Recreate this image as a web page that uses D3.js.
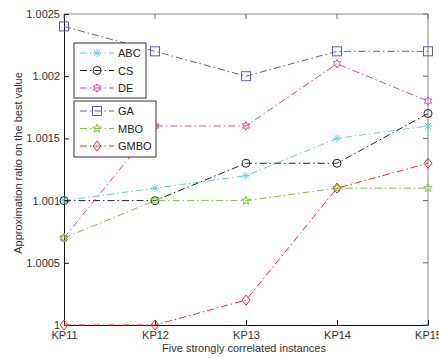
<!DOCTYPE html>
<html>
<head>
<meta charset="utf-8">
<script src="https://cdn.jsdelivr.net/npm/d3@7/dist/d3.min.js"></script>
<style>
  html, body { margin: 0; padding: 0; background: #fff; }
  svg { display: block; font-family: "Liberation Sans", Arial, sans-serif; }
</style>
</head>
<body>
<svg id="chart" width="439" height="358"></svg>
<script>
// Instances on the x axis
const instances = ["KP11", "KP12", "KP13", "KP14", "KP15"];
// Approximation ratio of each algorithm per instance
const abc  = [1.0010, 1.0011, 1.0012, 1.0015, 1.0016];
const cs   = [1.0010, 1.0010, 1.0013, 1.0013, 1.0017];
const de   = [1.0007, 1.0016, 1.0016, 1.0021, 1.0018];
const ga   = [1.0024, 1.0022, 1.0020, 1.0022, 1.0022];
const mbo  = [1.0007, 1.0010, 1.0010, 1.0011, 1.0011];
const gmbo = [1.0000, 1.0000, 1.0002, 1.0011, 1.0013];
const yTicks = [1, 1.0005, 1.001, 1.0015, 1.002, 1.0025];
const yTickLabels = ["1", "1.0005", "1.001", "1.0015", "1.002", "1.0025"];

const series = [
  { name: "ABC",  values: abc,  color: "#6ccbe0", marker: "plus" },
  { name: "CS",   values: cs,   color: "#222222", marker: "circle" },
  { name: "DE",   values: de,   color: "#d94aa6", marker: "hexagram" },
  { name: "GA",   values: ga,   color: "#5a5fb0", marker: "square" },
  { name: "MBO",  values: mbo,  color: "#7cc241", marker: "pentagram" },
  { name: "GMBO", values: gmbo, color: "#ee2a2a", marker: "diamond" }
];

const svg = d3.select("#chart");
const plotL = 64, plotR = 428, plotT = 14, plotB = 325;

const x = d3.scalePoint().domain(instances).range([plotL, plotR]);
const y = d3.scaleLinear().domain([1, 1.0025]).range([plotB, plotT]);

const dashDot = "7,3,1.5,3";

// Star path generator
function starPath(n, rOuter, rInner) {
  const p = [];
  for (let i = 0; i < 2 * n; i++) {
    const r = i % 2 === 0 ? rOuter : rInner;
    const a = -Math.PI / 2 + i * Math.PI / n;
    p.push([r * Math.cos(a), r * Math.sin(a)]);
  }
  return "M" + p.map(d => d.join(",")).join("L") + "Z";
}

function drawMarker(g, type, cx, cy, color) {
  const s = g.append("g").attr("transform", `translate(${cx},${cy})`)
    .attr("fill", "none").attr("stroke", color).attr("stroke-width", 1);
  if (type === "plus") {
    s.append("path").attr("d", "M-4,0H4M0,-4V4M-3,-3L3,3M-3,3L3,-3");
  } else if (type === "circle") {
    s.append("circle").attr("r", 4);
  } else if (type === "hexagram") {
    s.append("path").attr("d", starPath(6, 4.2, 2.4));
  } else if (type === "square") {
    s.append("rect").attr("x", -4.5).attr("y", -4.5).attr("width", 9).attr("height", 9);
  } else if (type === "pentagram") {
    s.append("path").attr("d", starPath(5, 4.5, 1.9));
  } else if (type === "diamond") {
    s.append("path").attr("d", "M0,-5L4,0L0,5L-4,0Z");
  }
}

// Axes box: left/bottom in black, top/right lighter
svg.append("line").attr("x1", plotL).attr("x2", plotR).attr("y1", plotT).attr("y2", plotT)
  .attr("stroke", "#888").attr("stroke-width", 1);
svg.append("line").attr("x1", plotR).attr("x2", plotR).attr("y1", plotT).attr("y2", plotB)
  .attr("stroke", "#888").attr("stroke-width", 1);

// Bottom axis (ticks inward)
const xAxis = svg.append("g").attr("transform", `translate(0,${plotB})`)
  .call(d3.axisBottom(x).tickSizeInner(-5).tickSizeOuter(0).tickPadding(6));
xAxis.select(".domain").attr("stroke", "#111");
xAxis.selectAll(".tick line").attr("stroke", "#111");
xAxis.selectAll("text").attr("font-size", 11).attr("fill", "#333")
  .attr("font-family", "Liberation Sans, Arial, sans-serif");

// Left axis
const yAxis = svg.append("g").attr("transform", `translate(${plotL},0)`)
  .call(d3.axisLeft(y).tickValues(yTicks).tickFormat((d, i) => yTickLabels[i])
    .tickSizeInner(-5).tickSizeOuter(0).tickPadding(4));
yAxis.select(".domain").attr("stroke", "#111");
yAxis.selectAll(".tick line").attr("stroke", "#111");
yAxis.selectAll("text").attr("font-size", 11).attr("fill", "#333")
  .attr("font-family", "Liberation Sans, Arial, sans-serif");

// Top and right tick marks
svg.append("g").selectAll("line").data(instances).join("line")
  .attr("x1", d => x(d)).attr("x2", d => x(d)).attr("y1", plotT).attr("y2", plotT + 5)
  .attr("stroke", "#666");
svg.append("g").selectAll("line").data(yTicks).join("line")
  .attr("x1", plotR).attr("x2", plotR - 5).attr("y1", d => y(d)).attr("y2", d => y(d))
  .attr("stroke", "#666");

// Series lines and markers
const line = d3.line().x((d, i) => x(instances[i])).y(d => y(d));
series.forEach(s => {
  svg.append("path").datum(s.values).attr("d", line)
    .attr("fill", "none").attr("stroke", s.color).attr("stroke-width", 1)
    .attr("stroke-dasharray", dashDot);
  s.values.forEach((v, i) => drawMarker(svg, s.marker, x(instances[i]), y(v), s.color));
});

// Legends (two boxes)
function legend(items, bx, by, bw, bh) {
  const g = svg.append("g");
  g.append("rect").attr("x", bx).attr("y", by).attr("width", bw).attr("height", bh)
    .attr("fill", "#fff").attr("stroke", "#333").attr("stroke-width", 1);
  items.forEach((s, i) => {
    const ly = by + 10 + i * 17.5;
    g.append("line").attr("x1", bx + 6).attr("x2", bx + 40).attr("y1", ly).attr("y2", ly)
      .attr("stroke", s.color).attr("stroke-width", 1).attr("stroke-dasharray", dashDot);
    drawMarker(g, s.marker, bx + 23, ly, s.color);
    g.append("text").attr("x", bx + 44).attr("y", ly + 4).text(s.name)
      .attr("font-size", 11).attr("fill", "#222");
  });
}
legend(series.slice(0, 3), 74, 43, 72, 55);
legend(series.slice(3), 74, 101, 82, 56);

// Axis titles
svg.append("text").attr("x", 244).attr("y", 352).attr("text-anchor", "middle")
  .attr("font-size", 11).attr("fill", "#333").text("Five strongly correlated instances");
svg.append("text").attr("transform", "translate(22,163) rotate(-90)")
  .attr("text-anchor", "middle").attr("font-size", 11).attr("fill", "#333")
  .text("Approximation ratio on the best value");
</script>
</body>
</html>
